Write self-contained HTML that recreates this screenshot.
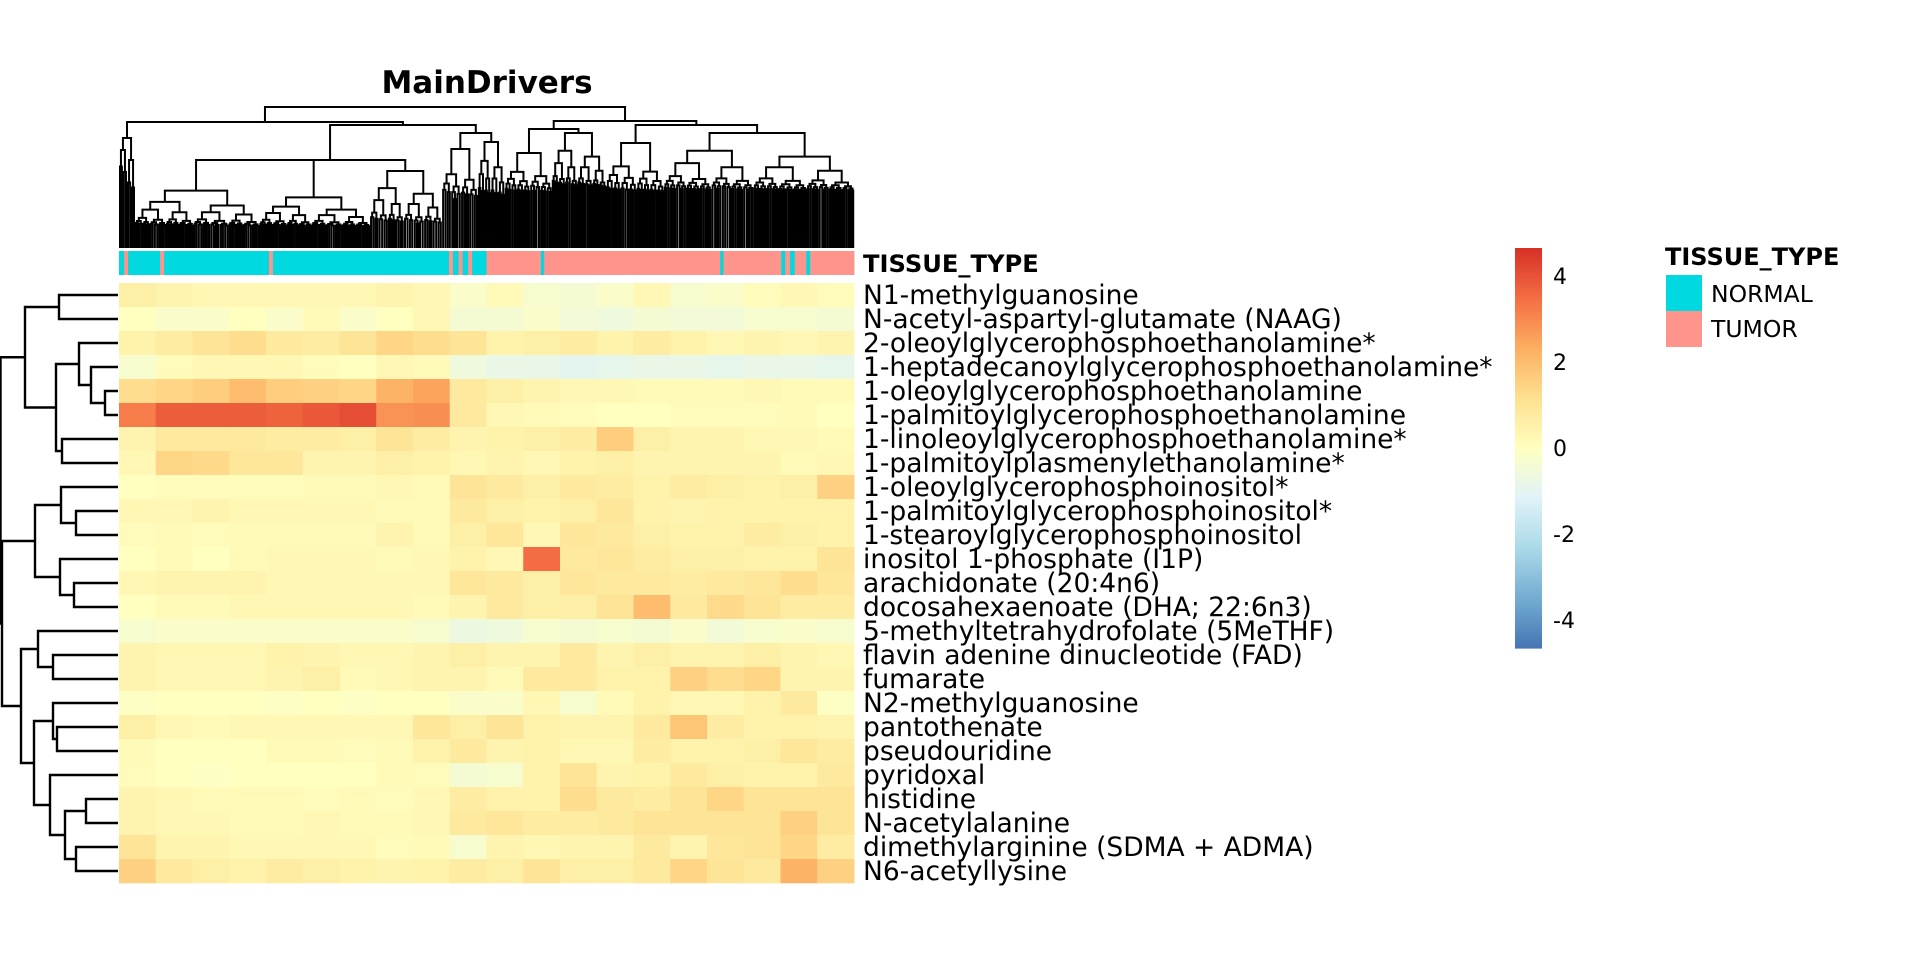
<!DOCTYPE html>
<html><head><meta charset="utf-8"><style>
html,body{margin:0;padding:0;background:#fff;width:1920px;height:960px;overflow:hidden}
svg{display:block}
text{font-family:"DejaVu Sans","Liberation Sans",sans-serif;fill:#000}
</style></head><body>
<svg id="chart" width="1920" height="960" viewBox="0 0 1920 960" xmlns="http://www.w3.org/2000/svg">
<text x="487" y="93" font-size="31" font-weight="bold" text-anchor="middle">MainDrivers</text>
<g id="coldend"></g>
<g id="annot"></g>
<text x="863" y="272" font-size="24.2" font-weight="bold">TISSUE_TYPE</text>
<g id="rowdend"></g>
<g id="cells"></g>
<g id="rowlabels"></g>
<g id="cbar"></g>
<g>
<text x="1665" y="265" font-size="24" font-weight="bold">TISSUE_TYPE</text>
<rect x="1666" y="275" width="36" height="36" fill="#00D9E0"/>
<rect x="1666" y="311" width="36" height="36" fill="#FF948C"/>
<text x="1711" y="302" font-size="23.5">NORMAL</text>
<text x="1711" y="337" font-size="23.5">TUMOR</text>
</g>
</svg>
<script>
const rowNames=["N1-methylguanosine","N-acetyl-aspartyl-glutamate (NAAG)","2-oleoylglycerophosphoethanolamine*","1-heptadecanoylglycerophosphoethanolamine*","1-oleoylglycerophosphoethanolamine","1-palmitoylglycerophosphoethanolamine","1-linoleoylglycerophosphoethanolamine*","1-palmitoylplasmenylethanolamine*","1-oleoylglycerophosphoinositol*","1-palmitoylglycerophosphoinositol*","1-stearoylglycerophosphoinositol","inositol 1-phosphate (I1P)","arachidonate (20:4n6)","docosahexaenoate (DHA; 22:6n3)","5-methyltetrahydrofolate (5MeTHF)","flavin adenine dinucleotide (FAD)","fumarate","N2-methylguanosine","pantothenate","pseudouridine","pyridoxal","histidine","N-acetylalanine","dimethylarginine (SDMA + ADMA)","N6-acetyllysine"];
const values=[
[0.6,0.4,0.3,0.3,0.3,0.3,0.3,0.4,0.3,-0.2,0.2,-0.3,-0.4,-0.2,0.3,-0.3,-0.2,0.1,0.3,0.1],
[0,-0.2,-0.2,0,-0.2,0.2,-0.2,0,0.3,-0.4,-0.4,-0.2,-0.5,-0.6,-0.4,-0.5,-0.5,-0.3,-0.3,-0.4],
[0.5,0.7,1.0,1.2,0.8,0.7,1.0,1.4,1.2,1.0,0.5,0.6,0.7,0.5,0.7,0.5,0.3,0.4,0.3,0.4],
[-0.3,0.1,0.3,0.3,0.3,0.1,0.0,0.3,0.2,-0.6,-0.8,-0.8,-1.0,-0.9,-0.8,-0.8,-0.9,-0.8,-0.8,-0.9],
[1.2,1.4,1.6,2.0,1.6,1.5,1.4,2.2,2.5,0.8,0.6,0.4,0.3,0.3,0.2,0.2,0.2,0.3,0.2,0.2],
[3.2,3.8,3.8,3.8,3.7,3.9,4.1,2.8,2.9,0.8,0.3,0.2,0.1,0.0,0.0,0.1,0.1,0.1,0.2,0.0],
[0.4,0.8,0.8,0.8,0.7,0.7,0.6,1.0,0.7,0.4,0.5,0.6,0.7,1.6,0.6,0.4,0.4,0.3,0.3,0.2],
[0.3,1.4,1.3,0.9,0.9,0.4,0.4,0.6,0.5,0.3,0.4,0.3,0.5,0.6,0.4,0.4,0.4,0.4,0.2,0.3],
[0,0.1,0.1,0.1,0.1,0.2,0.2,0.3,0.2,1.0,0.8,0.6,0.8,0.7,0.5,0.7,0.6,0.5,0.6,1.5],
[0.3,0.3,0.4,0.3,0.3,0.3,0.3,0.2,0.2,0.8,0.6,0.5,0.6,0.9,0.5,0.4,0.5,0.5,0.5,0.5],
[0.1,0.2,0.1,0.2,0.2,0.2,0.2,0.4,0.2,0.6,0.9,0.3,0.9,0.8,0.6,0.5,0.5,0.7,0.6,0.5],
[0,0.2,0,0.2,0.3,0.3,0.3,0.2,0.3,0.5,0.3,3.5,0.8,0.9,0.7,0.6,0.6,0.5,0.5,1.0],
[0.3,0.4,0.4,0.4,0.3,0.3,0.3,0.3,0.3,0.9,0.8,0.6,0.9,0.8,0.8,0.7,0.8,0.9,1.2,0.9],
[0.0,0.2,0.2,0.3,0.3,0.3,0.3,0.3,0.2,0.4,0.8,0.6,0.6,1.0,2.0,0.8,1.3,1.0,0.7,0.7],
[-0.3,-0.2,-0.2,-0.2,-0.2,-0.2,-0.2,-0.2,-0.3,-0.7,-0.6,-0.3,-0.4,-0.3,-0.4,-0.2,-0.5,-0.3,-0.2,-0.3],
[0.4,0.3,0.3,0.3,0.5,0.4,0.3,0.3,0.4,0.6,0.4,0.4,0.8,0.4,0.6,0.4,0.4,0.6,0.4,0.3],
[0.4,0.3,0.3,0.3,0.4,0.6,0.2,0.3,0.4,0.4,0.2,0.8,0.8,0.5,0.5,1.5,1.2,1.4,0.4,0.4],
[-0.1,0,0,0,-0.1,0,-0.1,0,0,-0.2,-0.2,0.3,-0.3,0.2,0.5,0.3,0.3,0.5,0.8,-0.1],
[0.6,0.3,0.2,0.3,0.3,0.3,0.3,0.3,0.9,0.6,1.0,0.5,0.4,0.4,0.8,1.8,0.7,0.5,0.5,0.4],
[0.2,0,0,0,0.2,0.2,0.1,0.2,0.5,0.8,0.4,0.5,0.3,0.3,0.7,0.5,0.5,0.6,0.9,0.7],
[0.1,0,-0.1,0,0,0,0,0.2,0.1,-0.4,-0.3,0.5,1.0,0.4,0.5,0.8,0.6,0.5,0.5,0.8],
[0.4,0.3,0.2,0.2,0.2,0.1,0.2,0.1,0.3,0.7,0.5,0.5,1.2,0.8,0.7,1.0,1.4,1.0,1.0,1.0],
[0.4,0.3,0.3,0.2,0.2,0.3,0.2,0.2,0.3,0.8,0.9,0.7,0.7,0.8,1.0,1.0,1.0,1.0,1.5,1.0],
[1.0,0.4,0.4,0.3,0.3,0.3,0.3,0.1,0.2,-0.3,0.4,0.3,0.4,0.4,0.8,0.4,0.9,1.0,1.4,0.7],
[1.5,0.8,0.6,0.5,0.7,0.6,0.5,0.4,0.5,0.7,0.6,1.0,0.6,0.6,0.8,1.4,1.0,0.8,2.2,1.5]];
const annotStart=[0,0.007,0.056,0.204,0.449,0.462,0.475,0.5,0.574,0.818,0.901,0.913,0.935];
const annotType=["N","T","T","T","T","T","T","T","N","N","N","N","N"];
const annotWidth=[1,0.005,0.005,0.005,0.005,0.005,0.005,0.5,0.004,0.004,0.005,0.006,0.005];
const cbarTicks=[4,2,0,-2,-4];
const rowMerges=[[0,1,59],[4,5,105],[3,26,91],[2,27,79],[6,7,62],[28,29,56],[25,30,25],
[9,10,76],[8,32,61],[12,13,74],[11,34,60],[33,35,35],[15,16,53],[14,37,38],[18,19,57],[17,39,53],
[21,22,86],[23,24,76],[41,42,65],[20,43,50],[40,44,34],[38,45,21],[36,46,2],[31,47,0.5]];

const NS="http://www.w3.org/2000/svg";
const HX0=119,HX1=854,HY0=283,RH=24,AY0=251,AY1=275;
const xs=f=>HX0+f*(HX1-HX0);
const ys=i=>HY0+i*RH;
const VMAX=4.65;
const stops=["#4575B4","#74ADD1","#ABD9E9","#E0F3F8","#FFFFBF","#FEE090","#FDAE61","#F46D43","#D73027"];
function hex(c){return [1,3,5].map(i=>parseInt(c.substr(i,2),16));}
function color(v){let t=(Math.max(-VMAX,Math.min(VMAX,v))+VMAX)/(2*VMAX)*(stops.length-1);let i=Math.min(stops.length-2,Math.floor(t));let f=t-i;let a=hex(stops[i]),b=hex(stops[i+1]);return "rgb("+a.map((x,k)=>Math.round(x+(b[k]-x)*f)).join(",")+")";}
function mk(tag,attrs,parent){const e=document.createElementNS(NS,tag);for(const k in attrs)e.setAttribute(k,attrs[k]);parent.appendChild(e);return e;}

const cells=document.getElementById('cells');
values.forEach((row,r)=>{const n=row.length;row.forEach((v,c)=>{
 const e=mk('rect',{x:xs(c/n),y:ys(r),width:(HX1-HX0)/n+0.5,height:RH+0.3,fill:color(v)},cells);
 
 
});});
const rl=document.getElementById('rowlabels');
rowNames.forEach((nm,r)=>{const t=mk('text',{x:863,y:ys(r)+RH/2+9,'font-size':26.5},rl);t.textContent=nm;
 
 });
const an=document.getElementById('annot');
annotStart.forEach((s,i)=>{const e=mk('rect',{x:xs(s),y:AY0,width:annotWidth[i]*(HX1-HX0)+0.3,height:AY1-AY0,fill:annotType[i]=="N"?"#00D9E0":"#FF948C"},an);
 
 });
const cb=document.getElementById('cbar');
const CBX=1515,CBW=27,CBY0=248,CBY1=648;
const cy=v=>CBY0+(VMAX-v)/(2*VMAX)*(CBY1-CBY0);
for(let i=0;i<200;i++){const v=VMAX-(i+0.5)/200*2*VMAX;const e=mk('rect',{x:CBX,y:CBY0+i*(CBY1-CBY0)/200,width:CBW,height:(CBY1-CBY0)/200+0.6,fill:color(v)},cb);
 
 }
cbarTicks.forEach(t=>{const e=mk('text',{x:1553,y:cy(t)+8,'font-size':22},cb);e.textContent=t<0?"-"+Math.abs(t):String(t);
 
 });
const rd=document.getElementById('rowdend');
const node={};for(let i=0;i<25;i++)node[i]={x:HX0-1,y:ys(i)+RH/2};
rowMerges.forEach((m,k)=>{const a=node[m[0]],b=node[m[1]],x=m[2];
 const p=mk('path',{d:`M${a.x},${a.y}H${x}V${b.y}H${b.x}`,fill:"none",stroke:"#000","stroke-width":2.4},rd);
 
 
 node[25+k]={x:x,y:(a.y+b.y)/2};});
const cd=document.getElementById('coldend');
const LB=248;
let dpath="";
function auto(x0,x1,h,leafTop,depth){
 if(x1-x0<2.7){return {c:(x0+x1)/2,h:h,leaf:true};}
 const s=x0+(x1-x0)*(depth%2?0.47:0.53);
 const f=depth%3==0?0.45:0.3;
 const L=auto(x0,s,h+(leafTop-h)*f,leafTop,depth+1);
 const R=auto(s,x1,h+(leafTop-h)*(f+0.1),leafTop,depth+1);
 return join(L,R,h);}
function join(L,R,h){
 dpath+=`M${L.c},${L.leaf?LB:L.h}V${h}H${R.c}V${R.leaf?LB:R.h}`;
 return {c:(L.c+R.c)/2,h:h,leaf:false};}
const nA=join(auto(119,127,150,205,1),auto(127,135,160,210,0),138);
const nB=join(auto(135,370,160,228,0),auto(370,442,171,228,1),160);
const nC=join(auto(442,478,149,205,0),auto(478,505,142,205,1),133);
const nBC=join(nB,nC,125);
const nLeft=join(nA,nBC,122);
const nD=join(auto(505,552,153,195,0),auto(552,606,133,192,1),129);
const nE=join(auto(606,664,143,195,0),auto(664,854,133,192,1),125);
const nRight=join(nD,nE,121);
join(nLeft,nRight,107);
const dp=mk('path',{d:dpath,fill:"none",stroke:"#000","stroke-width":2},cd);


</script>
</body></html>
